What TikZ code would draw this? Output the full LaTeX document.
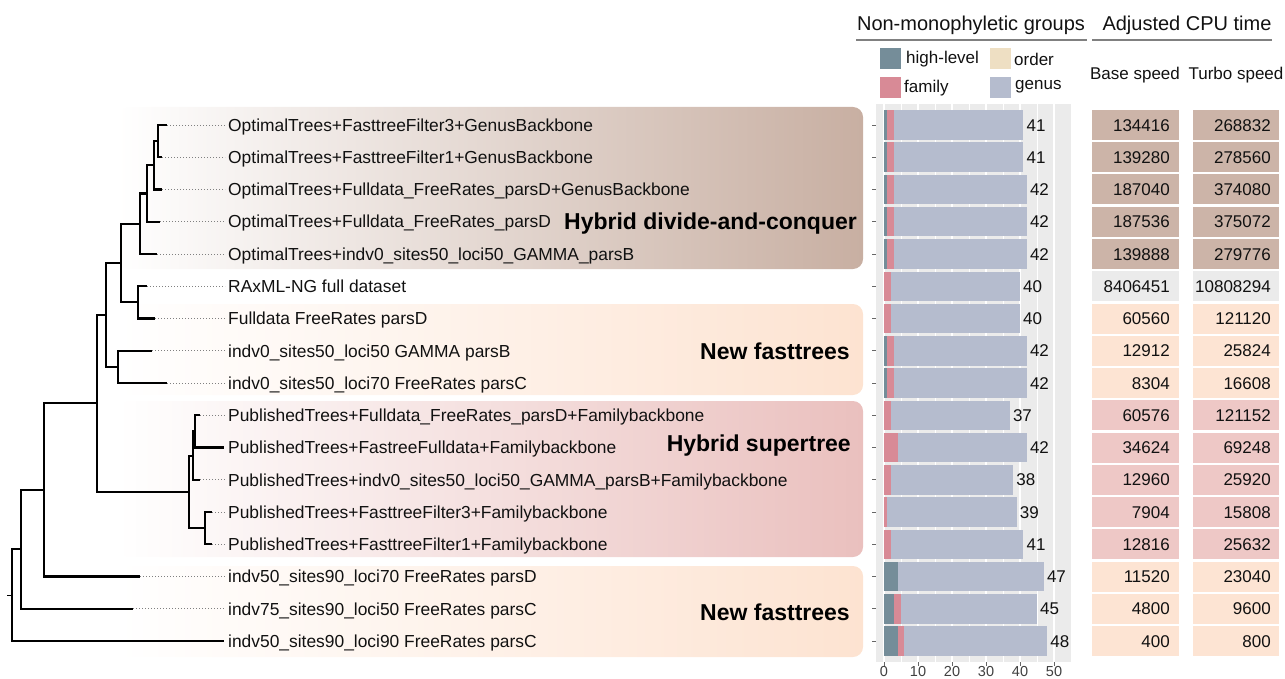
\documentclass[tikz,border=0pt]{standalone}
\usepackage{fontspec}
\setmainfont{Liberation Sans}
\definecolor{hl}{HTML}{758D99}
\definecolor{fam}{HTML}{D88A96}
\definecolor{gen}{HTML}{B5BCCE}
\definecolor{ord}{HTML}{EEDFC3}
\definecolor{panel}{HTML}{EBEBEB}
\definecolor{brownc}{HTML}{CCB4A8}
\definecolor{peachc}{HTML}{FDE4D3}
\definecolor{pinkc}{HTML}{EEC8C6}
\definecolor{greyc}{HTML}{EBEBEB}
\definecolor{brownbox}{HTML}{C8AFA2}
\definecolor{peachbox}{HTML}{FDE3D1}
\definecolor{pinkbox}{HTML}{EAC0BE}
\definecolor{txt}{HTML}{111111}
\begin{document}
\begin{tikzpicture}[x=1pt,y=-1pt,
  tree/.style={line width=2.1pt, line join=miter, black},
  lead/.style={line width=0.9pt, black!50, dash pattern=on 1pt off 2pt},
  lab/.style={anchor=west, inner sep=0pt, text height=12.5pt, text depth=0pt, font=\fontsize{17.4}{20}\selectfont, text=txt},
  grp/.style={anchor=east, inner sep=0pt, text height=16.5pt, text depth=0pt, font=\fontsize{23}{26}\selectfont\bfseries},
  val/.style={anchor=west, inner sep=0pt, text height=12.3pt, text depth=0pt, font=\fontsize{17}{20}\selectfont, text=txt},
  num/.style={anchor=east, inner sep=0pt, text height=12.3pt, text depth=0pt, font=\fontsize{17}{20}\selectfont, text=txt},
  hdr/.style={inner sep=0pt, text height=14.5pt, text depth=0pt, font=\fontsize{20}{24}\selectfont, text=txt},
  leg/.style={anchor=west, inner sep=0pt, font=\fontsize{17}{20}\selectfont, text=txt},
  axl/.style={inner sep=0pt, text height=10.5pt, text depth=0pt, font=\fontsize{14.5}{17}\selectfont, text=black!75},
  box/.style={rounded corners=10pt}]
\useasboundingbox (0,0) rectangle (1285,679);

% group boxes
\shade[box, left color=white, right color=brownbox] (118,107) rectangle (863,269);
\shade[box, left color=white, right color=peachbox] (118,304) rectangle (863,395);
\shade[box, left color=white, right color=pinkbox] (118,401) rectangle (863,557);
\shade[box, left color=white, right color=peachbox] (118,566) rectangle (863,657);

\node[grp] (g1) at (857,221) {Hybrid divide-and-conquer};
\node[grp] (g2) at (850,351) {New fasttrees};
\node[grp] (g3) at (851,443) {Hybrid supertree};
\node[grp] (g4) at (850,612) {New fasttrees};

% tips
\foreach \i/\tx in {0/167,1/162,2/162,3/160,4/157,5/147,6/155,7/152,8/167,9/200,10/224,11/200,12/212,13/212,14/140,15/133,16/224}{
  \coordinate (t\i) at (\tx,{125+32.25*\i});
}
% internal nodes
\coordinate (A) at (158,141.125);
\coordinate (B) at (154,165.31);
\coordinate (C) at (147,193.53);
\coordinate (D) at (140,223.77);
\coordinate (F) at (138,302.375);
\coordinate (E) at (121,263.07);
\coordinate (H) at (118,366.875);
\coordinate (G) at (106,314.97);
\coordinate (K2) at (195,431.375);
\coordinate (K) at (193,455.56);
\coordinate (L) at (205,528.125);
\coordinate (J) at (189,491.84);
\coordinate (I) at (97,403.4);
\coordinate (M) at (44,489.95);
\coordinate (N) at (21,549.35);
\coordinate (R) at (12,595.2);
\coordinate (rt) at (7,595.2);

\draw[tree] (t0) -| (A) |- (t1);
\draw[tree] (A) -| (B) |- (t2);
\draw[tree] (B) -| (C) |- (t3);
\draw[tree] (C) -| (D) |- (t4);
\draw[tree] (t5) -| (F) |- (t6);
\draw[tree] (D) -| (E) |- (F);
\draw[tree] (t7) -| (H) |- (t8);
\draw[tree] (E) -| (G) |- (H);
\draw[tree] (t9) -| (K2) |- (t10);
\draw[tree] (K2) -| (K) |- (t11);
\draw[tree] (t12) -| (L) |- (t13);
\draw[tree] (K) -| (J) |- (L);
\draw[tree] (G) -| (I) |- (J);
\draw[tree] (I) -| (M) |- (t14);
\draw[tree] (M) -| (N) |- (t15);
\draw[tree] (N) -| (R) |- (t16);
\draw[line width=0.9pt] (rt) -- (R);

% labels
\foreach \i/\txt in {
0/{OptimalTrees+FasttreeFilter3+GenusBackbone},
1/{OptimalTrees+FasttreeFilter1+GenusBackbone},
2/{OptimalTrees+Fulldata\_FreeRates\_parsD+GenusBackbone},
3/{OptimalTrees+Fulldata\_FreeRates\_parsD},
4/{OptimalTrees+indv0\_sites50\_loci50\_GAMMA\_parsB},
5/{RAxML-NG full dataset},
6/{Fulldata FreeRates parsD},
7/{indv0\_sites50\_loci50 GAMMA parsB},
8/{indv0\_sites50\_loci70 FreeRates parsC},
9/{PublishedTrees+Fulldata\_FreeRates\_parsD+Familybackbone},
10/{PublishedTrees+FastreeFulldata+Familybackbone},
11/{PublishedTrees+indv0\_sites50\_loci50\_GAMMA\_parsB+Familybackbone},
12/{PublishedTrees+FasttreeFilter3+Familybackbone},
13/{PublishedTrees+FasttreeFilter1+Familybackbone},
14/{indv50\_sites90\_loci70 FreeRates parsD},
15/{indv75\_sites90\_loci50 FreeRates parsC},
16/{indv50\_sites90\_loci90 FreeRates parsC}}{
  \node[lab] (n\i) at (228,{125+32.25*\i}) {\txt};
}
\foreach \i in {0,...,9,11,12,13,14,15}{
  \draw[lead] (t\i) -- ([xshift=-3pt]n\i.west);
}

% bar panel
\fill[panel] (876,104) rectangle (1071,662);
\foreach \k in {0,...,5}{
  \draw[white, line width=1.3pt] ({884+34*\k},104) -- ({884+34*\k},662);
  \draw[white, line width=0.6pt] ({901+34*\k},104) -- ({901+34*\k},662);
  \draw[black!60, line width=0.8pt] ({884+34*\k},662) -- ({884+34*\k},665.5);
  \node[axl] (ax\k) at ({884+34*\k},671.5) {\the\numexpr 10*\k\relax};
}
\foreach \i/\h/\f/\t in {0/1/2/41,1/1/2/41,2/1/2/42,3/1/2/42,4/1/2/42,5/0/2/40,6/0/2/40,7/1/2/42,8/1/2/42,9/0/2/37,10/0/4/42,11/0/2/38,12/0/1/39,13/0/2/41,14/4/0/47,15/3/2/45,16/4/2/48}{
  \pgfmathsetmacro\yy{125+32.25*\i}
  \pgfmathsetmacro\xa{884+3.4*\h}
  \pgfmathsetmacro\xb{884+3.4*(\h+\f)}
  \pgfmathsetmacro\xc{884+3.4*\t}
  \fill[gen] (\xb,\yy-14.75) rectangle (\xc,\yy+14.75);
  \ifnum\f>0 \fill[fam] (\xa,\yy-14.75) rectangle (\xb,\yy+14.75);\fi
  \ifnum\h>0 \fill[hl] (884,\yy-14.75) rectangle (\xa,\yy+14.75);\fi
  \draw[black!60, line width=0.8pt] (872,\yy) -- (876,\yy);
  \node[val] (v\i) at (\xc+3,\yy) {\t};
}

% legend
\fill[hl] (880,48) rectangle (901,69);
\fill[fam] (880,77) rectangle (901,98);
\fill[ord] (990,48) rectangle (1011,69);
\fill[gen] (990,77) rectangle (1011,98);
\node[leg] (l1) at (906,59) {high-level};
\node[leg] (l2) at (904,88) {family};
\node[leg] (l3) at (1014,59) {order};
\node[leg] (l4) at (1015,87) {genus};

% headers
\node[hdr] (h1) at (971,23) {Non-monophyletic groups};
\node[hdr] (h2) at (1187,23) {Adjusted CPU time};
\draw[black!50, line width=1.6pt] (856,40) -- (1087,40);
\draw[black!50, line width=1.6pt] (1092,40) -- (1272,40);
\node[lab, anchor=center, font=\fontsize{17}{20}\selectfont] (bs) at (1135,73) {Base speed};
\node[lab, anchor=center, font=\fontsize{17}{20}\selectfont] (ts) at (1236,73) {Turbo speed};

% table
\foreach \i/\b/\tb/\c in {0/134416/268832/brownc,1/139280/278560/brownc,2/187040/374080/brownc,3/187536/375072/brownc,4/139888/279776/brownc,5/8406451/10808294/greyc,6/60560/121120/peachc,7/12912/25824/peachc,8/8304/16608/peachc,9/60576/121152/pinkc,10/34624/69248/pinkc,11/12960/25920/pinkc,12/7904/15808/pinkc,13/12816/25632/pinkc,14/11520/23040/peachc,15/4800/9600/peachc,16/400/800/peachc}{
  \pgfmathsetmacro\yy{125+32.25*\i}
  \fill[\c] (1092,\yy-15) rectangle (1179,\yy+15);
  \fill[\c] (1193,\yy-15) rectangle (1279,\yy+15);
  \node[num] (b\i) at (1170,\yy) {\b};
  \node[num] (c\i) at (1271,\yy) {\tb};
}
\end{tikzpicture}
\end{document}
